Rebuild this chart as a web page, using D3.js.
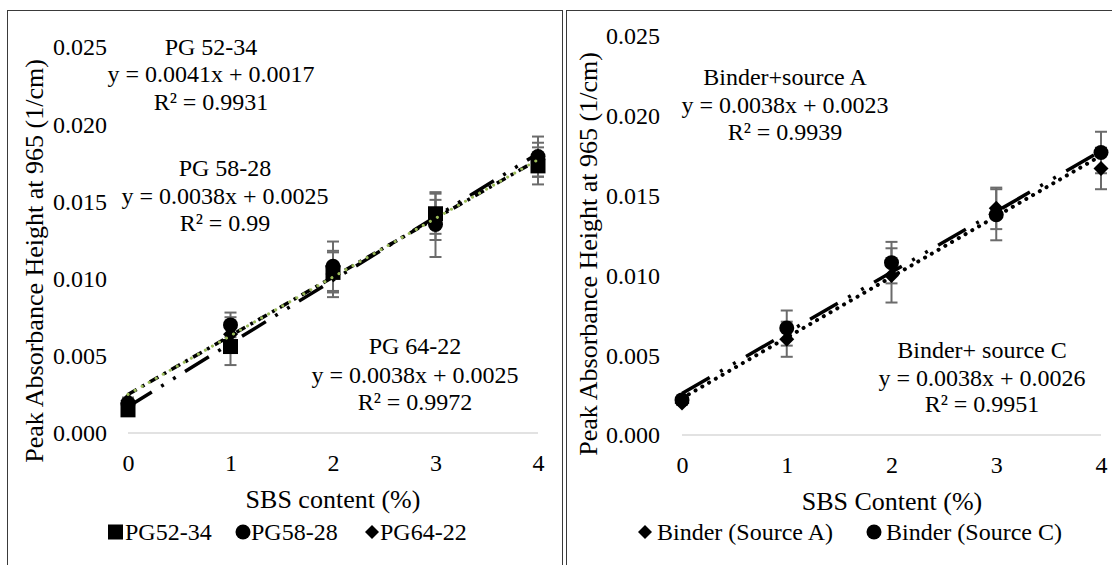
<!DOCTYPE html>
<html><head><meta charset="utf-8">
<script src="https://cdn.jsdelivr.net/npm/d3@7"></script>
<style>
body{margin:0;background:#fff}
svg{display:block}
svg text{font-family:"Liberation Serif","Times New Roman",Times,"Nimbus Roman","DejaVu Serif",serif !important;fill:#000}
</style>
</head><body>
<svg id="c" width="1112" height="565"></svg>
<script>
// ---------- data ----------
const xTicks = [0, 1, 2, 3, 4];
const yTicks = [0, 0.005, 0.010, 0.015, 0.020, 0.025];

// Left chart
const leftNames = ["PG52-34", "PG58-28", "PG64-22"];
const pg5234 = [0.0015, 0.0056, 0.0104, 0.0142, 0.0173];
const pg5234Err = [0.0002, 0.0012, 0.0013, 0.0013, 0.0012];
const pg5828 = [0.0019, 0.0070, 0.0108, 0.0135, 0.0179];
const pg5828Err = [0.0002, 0.0008, 0.0016, 0.0021, 0.0013];
const pg6422 = [0.0021, 0.0064, 0.0103, 0.0138, 0.0177];
const pg6422Err = [0.0002, 0.0011, 0.0015, 0.0013, 0.0011];
const leftFits = [[0.0041, 0.0017], [0.0038, 0.0025], [0.0038, 0.0025]];
const leftLabels = [
  ["PG 52-34", "y = 0.0041x + 0.0017", "R² = 0.9931"],
  ["PG 58-28", "y = 0.0038x + 0.0025", "R² = 0.99"],
  ["PG 64-22", "y = 0.0038x + 0.0025", "R² = 0.9972"]
];

// Right chart
const rightNames = ["Binder (Source A)", "Binder (Source C)"];
const sourceA = [0.0020, 0.0060, 0.0100, 0.0142, 0.0167];
const sourceAErr = [0.0001, 0.0011, 0.0017, 0.0013, 0.0013];
const sourceC = [0.0022, 0.0067, 0.0108, 0.0138, 0.0177];
const sourceCErr = [0.0001, 0.0011, 0.0013, 0.0016, 0.0013];
const rightFits = [[0.0038, 0.0023], [0.0038, 0.0026]];
const rightLabels = [
  ["Binder+source A", "y = 0.0038x + 0.0023", "R² = 0.9939"],
  ["Binder+ source C", "y = 0.0038x + 0.0026", "R² = 0.9951"]
];

// ---------- drawing ----------
const FONT = "'Liberation Serif', 'Times New Roman', Times, 'Nimbus Roman', 'DejaVu Serif', serif";
const svg = d3.select("#c");
const ERR_COLOR = "#6b6b6b";

// panel frames
svg.append("rect").attr("x", 7.5).attr("y", 10.5).attr("width", 555).attr("height", 600)
  .attr("fill", "none").attr("stroke", "#3a3a3a").attr("stroke-width", 1);
svg.append("rect").attr("x", 566.5).attr("y", 10.5).attr("width", 600).attr("height", 600)
  .attr("fill", "none").attr("stroke", "#3a3a3a").attr("stroke-width", 1);

function marker(g, shape, cx, cy, s) {
  if (shape === "square") {
    g.append("rect").attr("x", cx - s / 2).attr("y", cy - s / 2).attr("width", s).attr("height", s).attr("fill", "#000");
  } else if (shape === "circle") {
    g.append("circle").attr("cx", cx).attr("cy", cy).attr("r", s / 2).attr("fill", "#000");
  } else {
    const h = s / 2 + 1;
    g.append("path").attr("d", `M${cx},${cy - h}L${cx + h},${cy}L${cx},${cy + h}L${cx - h},${cy}Z`).attr("fill", "#000");
  }
}

function txt(g, x, y, t, size, anchor) {
  return g.append("text").attr("x", x).attr("y", y).attr("dy", "0.33em")
    .attr("text-anchor", anchor || "middle").attr("font-size", size)
    .style("font-family", FONT).text(t);
}

function panel(cfg) {
  const g = svg.append("g");
  const x = d3.scaleLinear().domain([0, 4]).range(cfg.xr);
  const y = d3.scaleLinear().domain([0, 0.025]).range(cfg.yr);

  // gridline at zero (only horizontal line shown)
  g.append("line").attr("x1", x(0)).attr("x2", x(4)).attr("y1", y(0)).attr("y2", y(0))
    .attr("stroke", "#d9d9d9").attr("stroke-width", 1.6);

  // y axis labels
  const yAxis = d3.axisLeft(y).tickValues(yTicks).tickFormat(d3.format(".3f")).tickSize(0).tickPadding(0);
  const ya = g.append("g").attr("transform", `translate(${cfg.yLabelX},0)`).call(yAxis)
    .attr("font-family", null).attr("font-size", null);
  ya.select(".domain").remove();
  ya.selectAll("text").attr("font-size", 24).style("font-family", FONT).attr("fill", "#000")
    .attr("dy", "0.33em").attr("x", 0);

  // x axis labels
  const xAxis = d3.axisBottom(x).tickValues(xTicks).tickFormat(d3.format("d")).tickSize(0).tickPadding(0);
  const xa = g.append("g").attr("transform", `translate(0,${cfg.xLabelY})`).call(xAxis)
    .attr("font-family", null).attr("font-size", null);
  xa.select(".domain").remove();
  xa.selectAll("text").attr("font-size", 24).style("font-family", FONT).attr("fill", "#000")
    .attr("dy", "0.33em").attr("y", 0);

  // axis titles
  txt(g, cfg.xTitle[0], cfg.xTitle[1], cfg.xTitleText, 26);
  g.append("text").attr("transform", `translate(${cfg.yTitle[0]},${cfg.yTitle[1]}) rotate(-90)`)
    .attr("dy", "0.33em").attr("text-anchor", "middle").attr("font-size", 26)
    .style("font-family", FONT).text("Peak Absorbance Height at 965 (1/cm)");

  // error bars
  cfg.series.forEach(s => {
    xTicks.forEach((xv, i) => {
      const lo = y(s.values[i] - s.err[i]), hi = y(s.values[i] + s.err[i]), cx = x(xv);
      g.append("line").attr("x1", cx).attr("x2", cx).attr("y1", lo).attr("y2", hi)
        .attr("stroke", ERR_COLOR).attr("stroke-width", 2);
      [lo, hi].forEach(yy => g.append("line").attr("x1", cx - 6).attr("x2", cx + 6)
        .attr("y1", yy).attr("y2", yy).attr("stroke", ERR_COLOR).attr("stroke-width", 2));
    });
  });

  // markers
  cfg.series.forEach(s => {
    xTicks.forEach((xv, i) => marker(g, s.shape, x(xv), y(s.values[i]), s.size));
  });

  // trendlines
  cfg.fits.forEach((f, k) => {
    const st = cfg.fitStyles[k];
    g.append("line").attr("x1", x(0)).attr("x2", x(4))
      .attr("y1", y(f[1])).attr("y2", y(f[0] * 4 + f[1]))
      .attr("stroke", st.color).attr("stroke-width", st.w)
      .attr("stroke-dasharray", st.dash).attr("stroke-linecap", st.cap);
  });

  // annotations
  cfg.labels.forEach((lines, k) => {
    const p = cfg.labelPos[k];
    lines.forEach((t, j) => txt(g, p[0], p[1][j], t, 24));
  });

  // legend
  cfg.legend.forEach(l => {
    marker(g, l.shape, l.mx, cfg.legendY, l.size);
    txt(g, l.tx, cfg.legendY, l.name, 24, "start");
  });
}

panel({
  xr: [128, 538], yr: [433, 47],
  yLabelX: 107, xLabelY: 463,
  xTitle: [333, 499], xTitleText: "SBS content (%)",
  yTitle: [34, 261],
  series: [
    {values: pg5234, err: pg5234Err, shape: "square", size: 15},
    {values: pg5828, err: pg5828Err, shape: "circle", size: 15},
    {values: pg6422, err: pg6422Err, shape: "diamond", size: 13}
  ],
  fits: leftFits,
  fitStyles: [
    {color: "#000", w: 3.5, dash: "28,11,3,11,3,11", cap: "butt"},
    {color: "#000", w: 3.5, dash: "10,6,3,6", cap: "butt"},
    {color: "#9BBB59", w: 3, dash: "0.1,8", cap: "round"}
  ],
  labels: leftLabels,
  labelPos: [[211, [47, 74, 102]], [225, [168, 196, 223]], [415, [346, 375, 402]]],
  legendY: 532,
  legend: [
    {shape: "square", mx: 115.5, tx: 125, size: 15, name: leftNames[0]},
    {shape: "circle", mx: 243, tx: 251, size: 15, name: leftNames[1]},
    {shape: "diamond", mx: 372, tx: 380, size: 12, name: leftNames[2]}
  ]
});

panel({
  xr: [682, 1101], yr: [435, 36],
  yLabelX: 660, xLabelY: 465,
  xTitle: [892, 501], xTitleText: "SBS Content (%)",
  yTitle: [588, 254],
  series: [
    {values: sourceA, err: sourceAErr, shape: "diamond", size: 13},
    {values: sourceC, err: sourceCErr, shape: "circle", size: 15}
  ],
  fits: rightFits,
  fitStyles: [
    {color: "#000", w: 4, dash: "0.1,7.7", cap: "round"},
    {color: "#000", w: 3.5, dash: "32,12,3,12,3,12", cap: "butt"}
  ],
  labels: rightLabels,
  labelPos: [[785, [77, 105, 132]], [982, [350, 378, 404]]],
  legendY: 532,
  legend: [
    {shape: "diamond", mx: 645, tx: 657, size: 12, name: rightNames[0]},
    {shape: "circle", mx: 874, tx: 886, size: 15, name: rightNames[1]}
  ]
});
</script>
</body></html>
